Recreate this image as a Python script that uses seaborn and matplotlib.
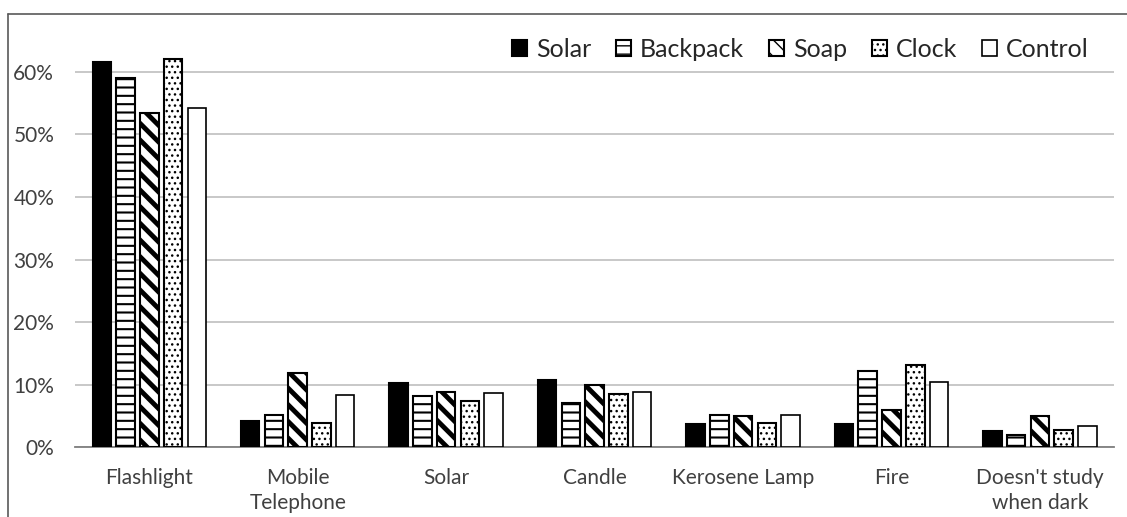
import numpy as np
import pandas as pd
import matplotlib
matplotlib.use('Agg')
import matplotlib.pyplot as plt
import seaborn as sns
from matplotlib.lines import Line2D
from matplotlib.ticker import PercentFormatter

sources = ['Flashlight', 'Mobile\nTelephone', 'Solar', 'Candle', 'Kerosene Lamp', 'Fire', "Doesn't study\nwhen dark"]
groups = ['Solar', 'Backpack', 'Soap', 'Clock', 'Control']

solar = [61.6, 4.2, 10.2, 10.7, 3.7, 3.7, 2.6]
backpack = [59.1, 5.1, 8.2, 7.1, 5.1, 12.2, 2.0]
soap = [53.5, 11.8, 8.9, 10.0, 5.0, 6.0, 5.0]
clock = [62.1, 3.9, 7.4, 8.5, 3.9, 13.2, 2.8]
control = [54.2, 8.4, 8.6, 8.8, 5.1, 10.4, 3.4]

rows = []
for g, vals in zip(groups, [solar, backpack, soap, clock, control]):
    for s, v in zip(sources, vals):
        rows.append({'source': s, 'group': g, 'share': v / 100})
df = pd.DataFrame(rows)

sns.set_style('white')
plt.rcParams['font.family'] = ['Lato', 'DejaVu Sans']
plt.rcParams['hatch.color'] = 'black'

fig = plt.figure(figsize=(11.27, 5.17), dpi=100)
ax = fig.add_axes([0.0666, 0.135, 0.922, 0.807])

pal = {'Solar': 'black', 'Backpack': 'white', 'Soap': 'white', 'Clock': 'white', 'Control': 'white'}
sns.barplot(data=df, x='source', y='share', hue='group', palette=pal, order=sources, hue_order=groups,
            edgecolor='black', linewidth=1.5, gap=0.22, width=0.8, ax=ax, legend=False, zorder=3)

hatches = ['', '--', '\\\\', '...', '']
hlw = [1, 1.5, 3.5, 1, 1]
for cont, h, lw in zip(ax.containers, hatches, hlw):
    for p in cont.patches:
        p.set_hatch(h)
        if hasattr(p, 'set_hatch_linewidth'):
            p.set_hatch_linewidth(lw)
for p in ax.containers[4].patches:
    p.set_linewidth(1.2)

ax.set_ylim(0, 0.667)
ax.set_yticks(np.arange(0, 0.61, 0.1))
ax.yaxis.set_major_formatter(PercentFormatter(1.0, decimals=0))
ax.yaxis.grid(True, color='#bfbfbf', linewidth=1.2)
ax.set_axisbelow(True)
for sp in ['top', 'right', 'left']:
    ax.spines[sp].set_visible(False)
ax.spines['bottom'].set_color('#7f7f7f')
ax.spines['bottom'].set_linewidth(1.3)
ax.tick_params(axis='both', length=0, labelsize=15, colors='#404040')
ax.tick_params(axis='x', pad=15)
ax.tick_params(axis='y', pad=15)
for lab in ax.get_xticklabels():
    lab.set_linespacing(1.3)
ax.set_xlabel('')
ax.set_ylabel('')

leg = ax.legend([c.patches[0] for c in ax.containers], groups, loc='upper right', ncol=5, frameon=False,
                fontsize=18, handlelength=0.6, handleheight=0.6, handletextpad=0.35, columnspacing=1.0,
                bbox_to_anchor=(0.997, 1.035))
for t in leg.get_texts():
    t.set_color('#262626')

# chart frame (only top and left edges are visible in the crop)
fig.add_artist(Line2D([8 / 1127, 8 / 1127], [0, 1 - 14 / 517], color='#595959', linewidth=1.2, transform=fig.transFigure))
fig.add_artist(Line2D([8 / 1127, 1], [1 - 14 / 517, 1 - 14 / 517], color='#595959', linewidth=1.2, transform=fig.transFigure))

fig.savefig('out.png', dpi=100)
